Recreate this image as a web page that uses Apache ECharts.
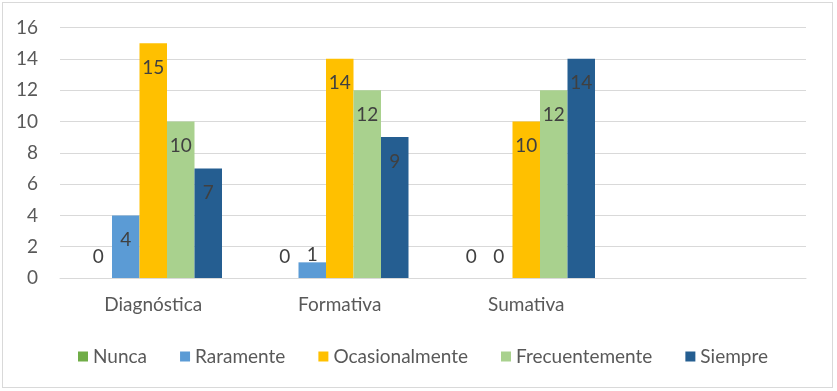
<!DOCTYPE html>
<html>
<head>
<meta charset="utf-8">
<script src="https://cdn.jsdelivr.net/npm/echarts@6/dist/echarts.min.js"></script>
<style>
  html, body { margin: 0; padding: 0; background: #fff; }
  #chart { position: absolute; left: 0; top: 0; width: 837px; height: 391px; }
  #frame { position: absolute; left: 2px; top: 2px; width: 829px; height: 384px; border: 1px solid #d9d9d9; pointer-events: none; }
</style>
</head>
<body>
<div id="chart"></div>
<div id="frame"></div>
<script>
const categories = ['Diagnóstica', 'Formativa', 'Sumativa', ''];
const seriesNames = ['Nunca', 'Raramente', 'Ocasionalmente', 'Frecuentemente', 'Siempre'];
const nunca = [0, 0, 0];
const raramente = [4, 1, 0];
const ocasionalmente = [15, 14, 10];
const frecuentemente = [10, 12, 12];
const siempre = [7, 9, 14];
const yTicks = [0, 2, 4, 6, 8, 10, 12, 14, 16];
const colors = ['#70AD47', '#5B9BD5', '#FFC000', '#A9D18E', '#255E91'];

const FONT = 'Lato';
const values = [nunca, raramente, ocasionalmente, frecuentemente, siempre];

function buildData(arr) {
  return arr.map(v => {
    if (v === 0) {
      return { value: v, label: { position: 'insideBottom', distance: 12 } };
    }
    if (v < 2) {
      return { value: v, label: { position: 'insideBottom', distance: 14 } };
    }
    return { value: v };
  });
}

const series = seriesNames.map((name, i) => ({
  name: name,
  type: 'bar',
  data: buildData(values[i]),
  barWidth: 27.5,
  barGap: '0%',
  itemStyle: { color: colors[i] },
  label: {
    show: true,
    position: 'insideTop',
    distance: 15,
    color: '#404040',
    fontFamily: FONT,
    fontSize: 19
  }
}));

const chart = echarts.init(document.getElementById('chart'), null, { renderer: 'canvas' });
chart.setOption({
  animation: false,
  backgroundColor: '#ffffff',
  color: colors,
  grid: { left: 60, right: 31, top: 27.5, bottom: 113, containLabel: false },
  legend: {
    data: seriesNames,
    left: 73,
    top: 342,
    itemWidth: 10,
    itemHeight: 10,
    itemGap: 33,
    icon: 'rect',
    textStyle: { color: '#595959', fontFamily: FONT, fontSize: 19 }
  },
  xAxis: {
    type: 'category',
    data: categories,
    axisLine: { show: true, lineStyle: { color: '#d9d9d9' } },
    axisTick: { show: false },
    axisLabel: { color: '#595959', fontFamily: FONT, fontSize: 19, margin: 17 }
  },
  yAxis: {
    type: 'value',
    min: yTicks[0],
    max: yTicks[yTicks.length - 1],
    interval: 2,
    axisLine: { show: false },
    axisTick: { show: false },
    splitLine: { lineStyle: { color: '#d9d9d9', width: 1 } },
    axisLabel: { color: '#595959', fontFamily: FONT, fontSize: 19, margin: 22 }
  },
  series: series
});
</script>
</body>
</html>
